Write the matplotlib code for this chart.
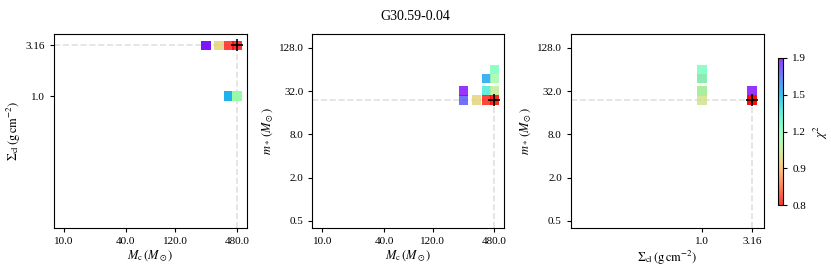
import numpy as np
import matplotlib
matplotlib.use('Agg')
import matplotlib.pyplot as plt
from matplotlib.colors import LogNorm

plt.rcParams['font.family'] = 'serif'
plt.rcParams['font.serif'] = ['Liberation Serif', 'DejaVu Serif']
plt.rcParams['mathtext.fontset'] = 'stix'

# best fitting models, in drawing order
mc = [400, 400, 480, 480, 480, 480, 240, 240, 320, 400, 480]
sigma = [1.0, 1.0, 1.0, 1.0, 1.0, 1.0, 3.16, 3.16, 3.16, 3.16, 3.16]
mstar = [32, 48, 24, 32, 64, 48, 24, 32, 24, 24, 24]
chi2 = [1.33, 1.52, 1.03, 1.06, 1.21, 1.12, 1.70, 1.86, 0.99, 0.77, 0.75]

mc_ticks = [10.0, 40.0, 120.0, 480.0]
mc_ticklabels = ['10.0', '40.0', '120.0', '480.0']
sig_ticks = [1.0, 3.16]
sig_ticklabels = ['1.0', '3.16']
ms_ticks = [0.5, 2.0, 8.0, 32.0, 128.0]
ms_ticklabels = ['0.5', '2.0', '8.0', '32.0', '128.0']
cbar_ticklabels = ['0.8', '0.9', '1.2', '1.5', '1.9']

mc_lim = (8, 600)
sig_lim = (0.05, 4.1)
ms_lim = (0.4, 200)

best = int(np.argmin(chi2))
norm = LogNorm(vmin=min(chi2), vmax=max(chi2))

fig = plt.figure(figsize=(8.31, 2.72), dpi=100)
ax1 = fig.add_axes([0.065, 0.162, 0.232, 0.713])
ax2 = fig.add_axes([0.376, 0.162, 0.231, 0.713])
ax3 = fig.add_axes([0.687, 0.162, 0.232, 0.713])
cax = fig.add_axes([0.936, 0.245, 0.0066, 0.543])

panels = [
    (ax1, mc, sigma, mc_lim, sig_lim, mc_ticks, mc_ticklabels, sig_ticks, sig_ticklabels,
     r'$M_{\rm c}\,(M_\odot)$', r'$\Sigma_{\rm cl}\,({\rm g\,cm^{-2}})$'),
    (ax2, mc, mstar, mc_lim, ms_lim, mc_ticks, mc_ticklabels, ms_ticks, ms_ticklabels,
     r'$M_{\rm c}\,(M_\odot)$', r'$m_*\,(M_\odot)$'),
    (ax3, sigma, mstar, sig_lim, ms_lim, sig_ticks, sig_ticklabels, ms_ticks, ms_ticklabels,
     r'$\Sigma_{\rm cl}\,({\rm g\,cm^{-2}})$', r'$m_*\,(M_\odot)$'),
]

for ax, xs, ys, xl, yl, xt, xtl, yt, ytl, xlab, ylab in panels:
    sc = ax.scatter(xs, ys, c=chi2, cmap='rainbow_r', norm=norm, marker='s',
                    s=48, alpha=0.8, linewidths=0, zorder=2)
    xb, yb = xs[best], ys[best]
    ax.plot([xl[0], xb], [yb, yb], ls='--', color='0.88', lw=1.2, zorder=1)
    ax.plot([xb, xb], [yl[0], yb], ls='--', color='0.88', lw=1.2, zorder=1)
    ax.plot(xb, yb, marker='+', color='k', ms=9, mew=1.2, zorder=3)
    ax.set_xscale('log')
    ax.set_yscale('log')
    ax.set_xlim(xl)
    ax.set_ylim(yl)
    ax.set_xticks(xt)
    ax.set_xticklabels(xtl)
    ax.set_yticks(yt)
    ax.set_yticklabels(ytl)
    ax.minorticks_off()
    ax.tick_params(labelsize=8, length=3, width=0.8)
    ax.set_xlabel(xlab, fontsize=9, labelpad=2)
    ax.set_ylabel(ylab, fontsize=9, labelpad=2)

cbar = fig.colorbar(sc, cax=cax)
cbar.set_ticks(np.geomspace(min(chi2), max(chi2), 5))
cbar.set_ticklabels(cbar_ticklabels)
cbar.ax.minorticks_off()
cbar.ax.tick_params(labelsize=8, length=3, width=0.8)
cbar.set_label(r'$\chi^2$', fontsize=9)

fig.suptitle('G30.59-0.04', fontsize=10, y=0.965)
fig.savefig('out.png', dpi=100)
